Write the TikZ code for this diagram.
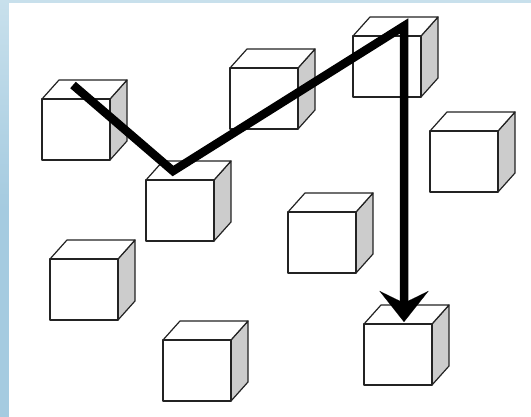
\documentclass[tikz,border=0pt]{standalone}
\usetikzlibrary{arrows.meta}
\definecolor{bgblue}{RGB}{200,224,236}
\definecolor{bgblueD}{RGB}{165,203,224}
\definecolor{sidegray}{RGB}{204,204,204}
\definecolor{edge}{RGB}{35,35,35}
\tikzset{
  cubeedge/.style={draw=edge, line width=1.2pt, line join=round},
  pics/cube/.style={code={
    \path[cubeedge, fill=sidegray] (68,0) -- (85,-19) -- (85,42) -- (68,61) -- cycle;
    \path[cubeedge, fill=white] (0,0) -- (17,-19) -- (85,-19) -- (68,0) -- cycle;
    \path[cubeedge, fill=white] (0,0) rectangle (68,61);
  }},
  route/.style={draw=black, line width=8.5pt, line join=miter, line cap=butt},
}
\begin{document}
\begin{tikzpicture}[x=1pt, y=-1pt]
  \useasboundingbox (0,0) rectangle (531,417);
  % background frame
  \fill[bgblue] (0,0) rectangle (531,417);
  \shade[top color=bgblue, bottom color=bgblueD, middle color=bgblueD] (0,0) rectangle (9,417);
  \fill[white] (9,3) rectangle (531,417);
  % cubes
  \pic (c1) at (42,99) {cube};
  \pic (c2) at (146,180) {cube};
  \pic (c3) at (230,68) {cube};
  \pic (c4) at (353,36) {cube};
  \pic (c5) at (430,131) {cube};
  \pic (c6) at (288,212) {cube};
  \pic (c7) at (50,259) {cube};
  \pic (c8) at (163,340) {cube};
  \pic (c9) at (364,324) {cube};
  % route points
  \coordinate (start) at (73,85);
  \coordinate (low) at (173,171);
  \coordinate (high) at (404,26);
  \coordinate (target) at (404,322);
  \draw[route, -{Stealth[length=31pt, width=49pt, inset=12pt, line width=0.1pt]}]
    (start) -- (low) -- (high) -- (target);
\end{tikzpicture}
\end{document}
